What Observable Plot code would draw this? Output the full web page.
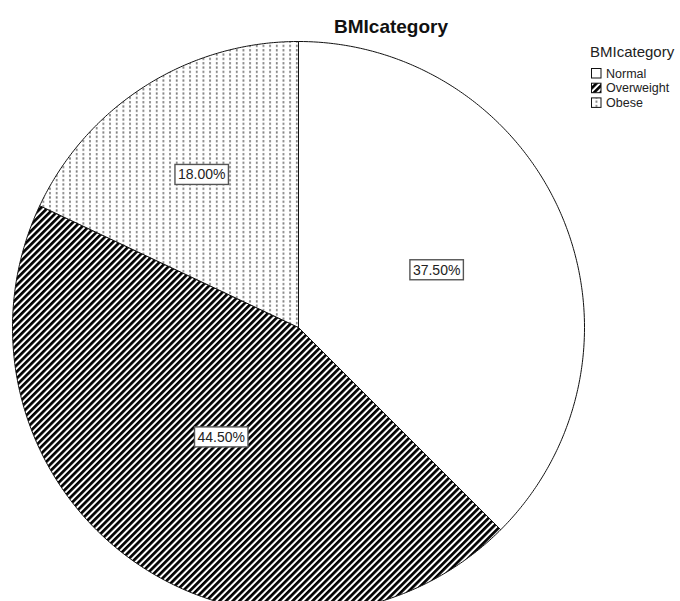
<!DOCTYPE html>
<html>
<head>
<meta charset="utf-8">
<script src="https://cdn.jsdelivr.net/npm/d3@7"></script>
<script src="https://cdn.jsdelivr.net/npm/@observablehq/plot@0.6"></script>
<style>
  html, body { margin: 0; padding: 0; overflow: hidden; background: #fff; }
  #chart { position: relative; width: 680px; height: 601px; }
  #chart svg { display: block; overflow: hidden; }
</style>
</head>
<body>
<div id="chart"></div>
<script>
// BMI category shares (percent of respondents)
const categories = ["Normal", "Overweight", "Obese"];
const percents = [37.5, 44.5, 18.0];
const valueLabels = ["37.50%", "44.50%", "18.00%"];
const chartTitle = "BMIcategory";
const legendTitle = "BMIcategory";

// Slice fills: plain white, black/white diagonal hatching, gray dotted columns
const sliceFills = ["white", "url(#bmi-stripes)", "url(#bmi-dots)"];

const rows = categories.map((category, i) => ({category, value: percents[i], label: valueLabels[i]}));

// Pie layout clockwise from 12 o'clock, in unit-circle coordinates
const slices = d3.pie().sort(null).value(d => d.value)(rows);
const STEP = Math.PI / 360;
const outline = slices.flatMap(s => {
  const category = s.data.category;
  const span = s.endAngle - s.startAngle;
  const n = Math.max(2, Math.ceil(span / STEP));
  const pts = [{category, x: 0, y: 0}];
  for (let i = 0; i <= n; ++i) {
    const a = s.startAngle + span * i / n;
    pts.push({category, x: Math.sin(a), y: Math.cos(a)});
  }
  pts.push({category, x: 0, y: 0});
  return pts;
});

// Value labels sit on each sector's centroid
const centroids = slices.map(s => {
  const half = (s.endAngle - s.startAngle) / 2;
  const mid = (s.startAngle + s.endAngle) / 2;
  const d = 2 * Math.sin(half) / (3 * half);
  return {category: s.data.category, label: s.data.label, x: d * Math.sin(mid), y: d * Math.cos(mid)};
});

// Layout: pie centre (298, 327), radius 286 px; the bottom runs off the page
const W = 680, H = 601, R = 286, CX = 298, CY = 327;
const pieTop = CY - R;
const yMin = -(H - CY) / R;

const plot = Plot.plot({
  width: W,
  height: H,
  marginLeft: CX - R,
  marginRight: W - (CX + R),
  marginTop: pieTop,
  marginBottom: 0,
  x: {domain: [-1, 1], axis: null},
  y: {domain: [yMin, 1], axis: null},
  color: {type: "ordinal", domain: categories, range: sliceFills},
  marks: [
    Plot.line(outline, {
      x: "x", y: "y", z: "category", fill: "category",
      stroke: "#111", strokeWidth: 1, strokeLinejoin: "round"
    }),
    Plot.text(centroids, {
      x: "x", y: "y", text: "label",
      fontSize: 14, fill: "#222",
      fontFamily: "'Liberation Sans', Arial, sans-serif"
    })
  ]
});
plot.style.background = "white";
document.getElementById("chart").appendChild(plot);

// Fill patterns
const svg = d3.select(plot);
const defs = svg.insert("defs", ":first-child");
const stripes = defs.append("pattern")
  .attr("id", "bmi-stripes")
  .attr("patternUnits", "userSpaceOnUse")
  .attr("width", 4.7).attr("height", 4.7)
  .attr("patternTransform", "rotate(45)");
stripes.append("rect").attr("width", 4.7).attr("height", 4.7).attr("fill", "white");
stripes.append("rect").attr("width", 2.7).attr("height", 4.7).attr("fill", "black");

const dots = defs.append("pattern")
  .attr("id", "bmi-dots")
  .attr("patternUnits", "userSpaceOnUse")
  .attr("width", 6.67).attr("height", 4.33);
dots.append("rect").attr("width", 6.67).attr("height", 4.33).attr("fill", "white");
dots.append("rect").attr("x", 2).attr("y", 1).attr("width", 1.6).attr("height", 2.2).attr("fill", "#707070");

// Boxes behind the value labels
svg.selectAll('g[aria-label="text"] text').each(function() {
  const b = this.getBBox();
  const padX = 3, padY = 2.5;
  const r = document.createElementNS("http://www.w3.org/2000/svg", "rect");
  r.setAttribute("x", b.x - padX);
  r.setAttribute("y", b.y - padY + 0.5);
  r.setAttribute("width", b.width + 2 * padX);
  r.setAttribute("height", b.height + 2 * padY - 1);
  r.setAttribute("fill", "white");
  r.setAttribute("stroke", "#555");
  r.setAttribute("stroke-width", 1.4);
  const t = this.getAttribute("transform");
  if (t) r.setAttribute("transform", t);
  this.parentNode.insertBefore(r, this);
});

// Title
const font = "'Liberation Sans', Arial, sans-serif";
svg.append("text")
  .attr("x", 391).attr("y", 33)
  .attr("text-anchor", "middle")
  .attr("font-family", font)
  .attr("font-size", 19)
  .attr("font-weight", "bold")
  .attr("fill", "#111")
  .text(chartTitle);

// Legend
const legend = svg.append("g")
  .attr("font-family", font)
  .attr("text-anchor", "start")
  .attr("fill", "#222");
legend.append("text")
  .attr("x", 590).attr("y", 57)
  .attr("font-size", 15)
  .text(legendTitle);
categories.forEach((c, i) => {
  const y0 = 68 + i * 14.7;
  legend.append("rect")
    .attr("x", 591.5).attr("y", y0 + 0.5)
    .attr("width", 9.5).attr("height", 9.5)
    .attr("fill", sliceFills[i])
    .attr("stroke", "#111").attr("stroke-width", 1);
  legend.append("text")
    .attr("x", 606).attr("y", y0 + 9.5)
    .attr("font-size", 12.5)
    .text(c);
});
</script>
</body>
</html>
